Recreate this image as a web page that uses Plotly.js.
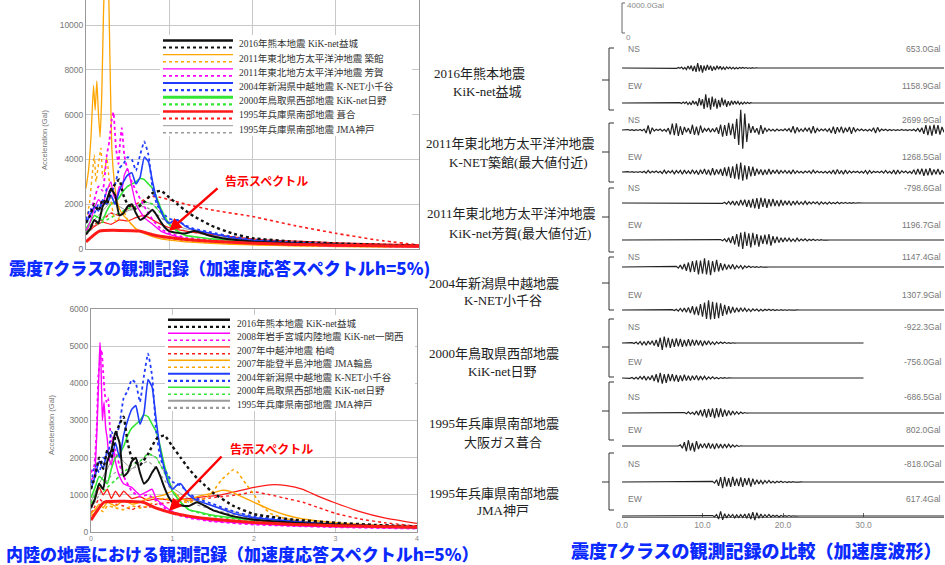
<!DOCTYPE html>
<html><head><meta charset="utf-8">
<script src="https://cdn.plot.ly/plotly-3.0.1.min.js"></script>
<style>html,body{margin:0;padding:0;background:#fff}#c{width:945px;height:565px}</style>
</head><body><div id="c"></div>
<script>
// ---------------- Spectra data (period s, acceleration Gal) ----------------
const kmS_T=[0,0.05,0.1,0.15,0.2,0.25,0.3,0.35,0.4,0.45,0.5,0.55,0.6,0.65,0.7,0.75,0.8,0.85,0.9,0.95,1.0,1.1,1.2,1.3,1.4,1.5,1.75,2.0,2.5,3.0,3.5,4.0];
const kmS_A=[650,900,1300,1150,1900,2200,2700,2400,1500,1600,1900,2000,1600,1300,1400,1600,1750,1500,1200,950,800,720,700,800,700,580,420,330,250,200,160,130];
const kmD_T=[0,0.05,0.1,0.15,0.2,0.25,0.3,0.35,0.4,0.45,0.5,0.6,0.7,0.8,0.9,1.0,1.1,1.2,1.3,1.4,1.5,1.75,2.0,2.5,3.0,3.5,4.0];
const kmD_A=[1160,1500,2000,1700,2200,2000,2600,2900,3100,2400,2000,1800,2100,2500,2600,2300,2000,1700,1450,1250,1050,700,480,330,250,190,150];
const tkS_T=[0,0.03,0.06,0.09,0.11,0.13,0.15,0.17,0.19,0.21,0.23,0.25,0.27,0.29,0.31,0.34,0.37,0.4,0.45,0.5,0.55,0.6,0.7,0.8,0.9,1.0,1.2,1.5,2.0,2.5,3.0,4.0];
const tkS_A=[2700,3500,5000,7300,6200,7500,6000,5000,7000,10500,13000,15000,12000,8000,4500,3000,2200,1800,1500,1300,1100,900,700,550,450,400,320,250,180,140,110,80];
const tkD_T=[0,0.04,0.08,0.1,0.12,0.15,0.18,0.2,0.23,0.25,0.28,0.3,0.33,0.36,0.4,0.45,0.5,0.6,0.7,0.8,1.0,1.2,1.5,2.0,2.5,3.0,4.0];
const tkD_A=[1270,2000,3500,4200,3000,3800,4500,3200,3600,4100,3000,2200,1500,1200,1400,1700,1300,900,700,600,450,350,280,200,150,120,90];
const hgS_T=[0,0.05,0.1,0.15,0.2,0.25,0.3,0.33,0.36,0.4,0.43,0.46,0.5,0.55,0.6,0.7,0.8,0.9,1.0,1.2,1.5,2.0,2.5,3.0,4.0];
const hgS_A=[800,1200,1800,2200,2000,2600,3000,2400,2200,2800,2600,3300,3600,2800,2000,1400,1100,800,650,450,350,250,180,140,100];
const hgD_T=[0,0.05,0.1,0.15,0.2,0.25,0.28,0.31,0.33,0.36,0.39,0.41,0.43,0.46,0.5,0.55,0.6,0.7,0.8,0.9,1.0,1.2,1.5,2.0,2.5,3.0,4.0];
const hgD_A=[1200,1600,2200,2800,2600,4200,4800,5800,6100,4500,3800,4800,5400,4200,3500,3000,2600,1900,1300,900,700,500,380,270,200,150,110];
const ojS_T=[0,0.05,0.1,0.15,0.2,0.25,0.3,0.35,0.4,0.45,0.5,0.55,0.6,0.65,0.7,0.75,0.8,0.85,0.9,0.95,1.0,1.05,1.1,1.2,1.3,1.5,1.75,2.0,2.5,3.0,3.5,4.0];
const ojS_A=[1150,1500,1900,1700,2200,2000,2400,2000,2600,3000,3300,3400,2900,3200,4100,3900,3000,2200,1700,1300,1150,1250,1300,1000,850,700,500,380,280,200,160,120];
const ojD_T=[0,0.05,0.1,0.15,0.2,0.25,0.3,0.35,0.4,0.45,0.5,0.55,0.6,0.65,0.7,0.75,0.8,0.85,0.9,0.95,1.0,1.05,1.1,1.2,1.3,1.5,1.75,2.0,2.5,3.0,3.5,4.0];
const ojD_A=[1310,1800,1600,2000,1900,2700,2500,2900,3600,3800,4100,4000,3500,4200,4800,4200,2700,2000,1700,1500,1350,1300,1250,1050,900,750,550,420,300,220,170,130];
const hnS_T=[0,0.05,0.1,0.15,0.2,0.25,0.3,0.35,0.4,0.45,0.5,0.55,0.6,0.65,0.7,0.75,0.8,0.85,0.9,1.0,1.1,1.2,1.3,1.5,1.75,2.0,2.5,3.0,3.5,4.0];
const hnS_A=[920,1200,1500,1400,1300,1700,2000,2100,2300,2600,2800,2900,3000,3150,3100,2900,2700,2300,1800,1100,800,600,550,450,380,320,250,200,160,130];
const hnD_T=[0,0.05,0.1,0.15,0.2,0.3,0.4,0.5,0.6,0.7,0.8,0.9,1.0,1.1,1.2,1.5,2.0,2.5,3.0,3.5,4.0];
const hnD_A=[760,1000,1300,1100,1200,1400,1600,1800,1900,2100,2000,1600,1100,800,600,420,300,230,180,140,110];
const fkS_T=[0,0.1,0.2,0.3,0.4,0.5,0.6,0.7,0.8,0.9,1.0,1.2,1.5,2.0,2.5,3.0,3.5,4.0];
const fkS_A=[690,1000,1200,1100,1300,1250,1400,1500,1300,1100,950,800,650,450,350,280,230,190];
const fkD_T=[0,0.1,0.2,0.3,0.4,0.5,0.6,0.7,0.8,0.9,1.0,1.2,1.5,2.0,2.5,3.0,3.5,4.0];
const fkD_A=[800,1100,1300,1600,1500,1800,2000,2200,2350,2300,2200,2000,1750,1450,1050,700,400,180];
const kbS_T=[0,0.1,0.2,0.3,0.4,0.5,0.6,0.7,0.8,0.9,1.0,1.2,1.5,2.0,2.5,3.0,4.0];
const kbS_A=[820,1300,1700,2100,1900,1700,1900,2100,2000,1600,1200,900,700,400,280,220,150];
const kbD_T=[0,0.1,0.2,0.3,0.4,0.5,0.6,0.7,0.8,0.9,1.0,1.2,1.5,2.0,2.5,3.0,4.0];
const kbD_A=[620,1000,1400,1600,1500,1700,1800,1900,1700,1400,1100,800,600,350,250,200,130];
const icS_T=[0,0.04,0.07,0.09,0.1,0.11,0.12,0.13,0.14,0.16,0.18,0.2,0.22,0.25,0.28,0.3,0.35,0.4,0.5,0.6,0.7,0.75,0.8,0.9,1.0,1.2,1.5,2.0,2.5,3.0,4.0];
const icS_A=[1400,1500,2600,3800,4500,5100,4700,3800,3000,3500,2800,2500,2000,1800,2200,1900,1500,1300,1200,1000,1100,1150,900,700,550,400,300,220,170,140,100];
const icD_T=[0,0.04,0.07,0.09,0.11,0.13,0.15,0.17,0.19,0.21,0.23,0.25,0.28,0.3,0.35,0.4,0.5,0.6,0.7,0.8,0.9,1.0,1.2,1.5,2.0,2.5,3.0,4.0];
const icD_A=[1600,1800,2800,4200,4600,4900,4300,3700,3500,3600,2900,2400,2600,2200,1800,1500,1100,950,1000,850,650,500,380,280,200,160,130,90];
const kwS_T=[0,0.05,0.1,0.15,0.2,0.25,0.3,0.35,0.4,0.45,0.5,0.6,0.7,0.8,0.9,1.0,1.2,1.4,1.6,1.8,2.0,2.2,2.4,2.6,2.8,3.0,3.3,3.6,4.0];
const kwS_A=[700,900,1200,1000,1150,900,1100,950,1100,1000,900,950,850,900,880,850,900,950,1000,1100,1200,1270,1250,1150,950,780,550,380,230];
const kwD_T=[0,0.05,0.1,0.15,0.2,0.3,0.4,0.5,0.6,0.7,0.8,1.0,1.2,1.4,1.6,1.8,2.0,2.2,2.4,2.6,2.8,3.0,3.3,3.6,4.0];
const kwD_A=[500,700,900,800,850,750,700,600,700,650,750,800,850,900,950,1000,1080,1000,900,800,650,500,350,250,160];
const wjS_T=[0,0.05,0.1,0.15,0.2,0.3,0.4,0.5,0.6,0.7,0.8,0.9,1.0,1.1,1.2,1.3,1.4,1.5,1.6,1.7,1.8,1.9,2.0,2.2,2.4,2.6,3.0,3.5,4.0];
const wjS_A=[500,600,750,650,800,700,850,750,800,900,950,1000,1100,900,850,950,1000,1050,1120,1100,1000,900,800,600,450,350,250,180,130];
const wjD_T=[0,0.05,0.1,0.15,0.2,0.3,0.4,0.5,0.6,0.7,0.8,0.9,1.0,1.2,1.4,1.5,1.6,1.7,1.75,1.8,1.9,2.0,2.1,2.2,2.4,2.6,3.0,3.5,4.0];
const wjD_A=[450,500,600,550,700,650,600,700,650,700,850,900,850,800,900,1100,1400,1600,1680,1600,1300,1000,700,500,350,280,200,150,110];
const ks_T=[0,0.16,0.64,0.8,1.0,1.2,1.5,2.0,2.5,3.0,3.5,4.0];
const ks_A=[320,800,800,640,512,427,341,256,205,171,146,128];

const specYTicksTop=[0,2000,4000,6000,8000,10000];
const specYTicksBot=[0,1000,2000,3000,4000,5000,6000];
const specXTicks=[0,1,2,3,4];

const legendTop=["2016年熊本地震 KiK-net益城","2011年東北地方太平洋沖地震 築館","2011年東北地方太平洋沖地震 芳賀","2004年新潟県中越地震 K-NET小千谷","2000年鳥取県西部地震 KiK-net日野","1995年兵庫県南部地震 葺合","1995年兵庫県南部地震 JMA神戸"];
const legendBot=["2016年熊本地震 KiK-net益城","2008年岩手宮城内陸地震 KiK-net一関西","2007年中越沖地震 柏崎","2007年能登半島沖地震 JMA輪島","2004年新潟県中越地震 K-NET小千谷","2000年鳥取県西部地震 KiK-net日野","1995年兵庫県南部地震 JMA神戸"];

// ---------------- Waveform data (Gal) ----------------
const wKmNS=[0,40,-60,80,-50,120,-140,90,-200,260,-180,320,-400,280,-520,653,-450,380,-600,300,-350,420,-250,300,-380,200,-260,300,-150,220,-180,120,-200,150,-90,130,-110,80,-120,60,-90,70,-50,80,-40,60,-50,30,-40,50,-30,20,-20,0];
const wKmEW=[0,50,-80,120,-60,150,-200,100,-250,300,-150,200,-400,650,-300,500,-800,1158,-600,700,-900,850,-500,600,-750,400,-550,700,-300,450,-500,250,-350,300,-200,280,-150,200,-180,100,-150,120,-80,90,-60,40,0];
const wTkNS=[0,30,-40,60,-50,40,-70,50, -60,80,-90,120,-400,600,-550,300, -150,100,-80,120,-150,90,-200,250, -600,850,-700,900,-800,500,-650,400, -300,250,-500,700,-650,450,-700,600, -350,200,-150,250,-300,200,-250,350, -500,700,-900,650,-800,950,-700,850, -1200,1500,-2000,2699,-2500,2200,-1600,900, -400,500,-350,250,-600,650,-500,300, -200,150,-120,100,-150,120,-100,80, -100,150,-120,200,-300,500,-450,350, -200,150,-200,250,-150,300,-450,500, -400,200,-150,120,-100,150,-200,180, -400,450,-500,380,-300,450,-420,300, -250,400,-500,350,-200,150,-100,120, -100,80,-120,100,-150,300,-400,350, -200,120,-80,100,-90,70,-80,60, -70,50,-60,80,-60,50,-70,60, -80,100,-150,200,-250,300,-500,650, -700,600,-750,700,-500,650,-600,400,-300];
const wTkEW=[0,20,-30,40,-30,50,-40,30, -50,60,-80,100,-150,200,-120,100, -80,120,-100,90,-200,250,-180,150, -120,200,-250,180,-150,220,-300,250, -200,150,-250,300,-200,180,-350,300, -250,400,-350,300,-450,500,-400,350, -300,400,-500,600,-550,700,-800,750, -900,1100,-1000,1268,-1150,900,-1000,800, -600,700,-500,450,-300,350,-400,300, -350,400,-300,250,-200,300,-250,200, -150,200,-180,150,-250,300,-200,150, -120,100,-150,120,-100,150,-200,250, -150,120,-100,80,-120,100,-150,120, -200,250,-300,350,-250,200,-300,250, -200,150,-120,100,-80,100,-120,100, -150,200,-250,200,-150,100,-80,60, -100,120,-150,200,-150,100,-200,250, -300,250,-200,150,-100,120,-150,100, -200,300,-350,400,-300,450,-500,400, -450,500,-400,350,-300,400,-350,250,-200];
const wHgNS=[0,40,-60,100,-150,200,-180,250, -300,250,-350,400,-300,450,-500,400, -600,550,-700,650,-798,700,-500,600, -650,500,-450,550,-400,350,-450,400, -350,300,-250,300,-350,250,-200,250, -200,150,-200,250,-180,150,-120,150, -100,150,-200,150,-120,100,-150,120, -100,80,-100,120,-90,70,-60,80, -60,50,-40,50,-30,20,-20,10,0];
const wHgEW=[0,60,-100,150,-250,300,-400,500, -600,800,-900,1000,-1196,1100,-800,900, -1000,950,-700,800,-900,600,-500,700, -600,800,-750,500,-400,450,-350,300, -250,300,-200,250,-180,150,-200,250, -150,120,-100,150,-120,100,-80,100, -80,60,-50,40,-30,20,-10,0];
const wOjNS=[0,80,-150,250,-300,400,-500,600, -700,800,-650,900,-1000,850,-900,1147, -1000,900,-1100,800,-700,950,-600,500, -450,400,-350,300,-250,350,-300,200, -150,200,-250,150,-100,120,-80,60, -50,40,-60,50,-30,20,-10,0];
const wOjEW=[0,50,-80,100,-150,200,-180,250, -300,350,-400,500,-600,450,-700,800, -900,1000,-1200,1307,-1250,1100,-1200,1000, -1100,900,-800,700,-600,500,-450,400, -350,300,-250,300,-200,250,-200,150, -200,150,-100,120,-150,100,-120,100, -80,100,-60,80,-70,50,-60,40, -50,30,-40,30,-20,30,-20,10, 0];
const wHnNS=[0,20,-30,50,-80,120,-150,200, -250,200,-300,250,-200,300,-350,400, -500,700,-922,850,-600,700,-650,550, -500,600,-450,550,-500,400,-450,500, -400,450,-350,400,-300,350,-400,300, -250,300,-200,150,-200,150,-100,120, -80,100,-60,50,-40,30,-20,0];
const wHnEW=[0,30,-50,80,-120,100,-150,200, -150,250,-300,200,-250,350,-400,500, -600,700,-756,500,-650,550,-400,500, -450,400,-500,350,-400,450,-350,300, -350,300,-250,350,-300,250,-200,250, -200,150,-120,150,-100,80,-100,60, -50,40,-30,20,-10,0];
const wFkNS=[0,60,-100,150,-120,100,-200,250, -300,400,-450,500,-600,550,-500,600, -686,650,-550,600,-500,450,-400,350, -300,250,-200,180,-150,120,-80,60, -30,0];
const wFkEW=[0,150,-300,500,-700,802,-600,400, -750,650,-400,300,-250,350,-300,400, -350,300,-400,350,-300,250,-300,250, -200,250,-180,150,-120,100,-60,30, 0];
const wKbNS=[0,80,-150,300,-500,650,-818,700, -600,500,-650,700,-500,450,-550,600, -650,500,-400,550,-600,450,-350,300, -250,200,-250,200,-150,200,-120,100, -120,100,-80,100,-70,60,-80,50, -40,50,-30,20,-20,10,0];
const wKbEW=[0,60,-100,200,-400,617,-500,300, -250,200,-150,200,-250,150,-200,180, -200,250,-300,350,-400,500,-550,450, -300,250,-200,180,-150,200,-120,100, -80,100,-120,80,-60,50,-40,60, -40,30,-20,10,0];

const waves=[wKmNS,wKmEW,wTkNS,wTkEW,wHgNS,wHgEW,wOjNS,wOjEW,wHnNS,wHnEW,wFkNS,wFkEW,wKbNS,wKbEW];
const waveStart=[6.4,7.0,0,0,12,12,6.5,6.0,0.5,0.5,7.5,7.0,11,11];
const waveStep=[0.2,0.2,0.25,0.25,0.25,0.25,0.25,0.25,0.25,0.25,0.25,0.25,0.25,0.25];
const waveEnd=[40,40,40,40,40,40,40,40,30,30,40,40,40,40];
const waveComp=["NS","EW","NS","EW","NS","EW","NS","EW","NS","EW","NS","EW","NS","EW"];
const wavePeak=["653.0Gal","1158.9Gal","2699.9Gal","1268.5Gal","-798.6Gal","1196.7Gal","1147.4Gal","1307.9Gal","-922.3Gal","-756.0Gal","-686.5Gal","802.0Gal","-818.0Gal","617.4Gal"];
const waveTicks=[0,10,20,30,40];
const waveTickText=["0.0","10.0","20.0","30.0","40.0"];

const groupLine1=["2016年熊本地震","2011年東北地方太平洋沖地震","2011年東北地方太平洋沖地震","2004年新潟県中越地震","2000年鳥取県西部地震","1995年兵庫県南部地震","1995年兵庫県南部地震"];
const groupLine2=["KiK-net益城","K-NET築館(最大値付近)","KiK-net芳賀(最大値付近)","K-NET小千谷","KiK-net日野","大阪ガス葺合","JMA神戸"];

// ---------------- layout helpers ----------------
const W=945,H=565;
const PX=x=>x/W, PY=y=>1-y/H;
const SERIF="'Liberation Serif','Noto Sans CJK JP',serif";
const SANS="'Liberation Sans','Noto Sans CJK JP',sans-serif";
const GOTH="'Noto Sans CJK JP',sans-serif";
const C={k:'#111111',o:'#ffa500',m:'#ff00ff',b:'#1f3cff',g:'#33e633',r:'#ff1a1a',gy:'#9a9a9a'};

const traces=[];
function spec(T,A,col,dash,w,xa,ya){
  traces.push({type:'scatter',mode:'lines',x:T,y:A,xaxis:xa,yaxis:ya,
    line:{color:col,dash:dash,width:w,shape:'spline',smoothing:0.4},hoverinfo:'skip'});
}
// top chart
spec(kbS_T,kbS_A,C.gy,'solid',1,'x','y'); spec(kbD_T,kbD_A,C.gy,'dot',1.2,'x','y');
spec(fkS_T,fkS_A,C.r,'solid',1.2,'x','y'); spec(fkD_T,fkD_A,C.r,'dot',1.6,'x','y');
spec(hnS_T,hnS_A,C.g,'solid',1.6,'x','y'); spec(hnD_T,hnD_A,C.g,'dot',1.6,'x','y');
spec(tkS_T,tkS_A,C.o,'solid',1.3,'x','y'); spec(tkD_T,tkD_A,C.o,'dot',1.4,'x','y');
spec(hgS_T,hgS_A,C.m,'solid',1.3,'x','y'); spec(hgD_T,hgD_A,C.m,'dot',1.8,'x','y');
spec(ojS_T,ojS_A,C.b,'solid',1.6,'x','y'); spec(ojD_T,ojD_A,C.b,'dot',1.8,'x','y');
spec(kmS_T,kmS_A,C.k,'solid',2,'x','y'); spec(kmD_T,kmD_A,C.k,'dot',2.4,'x','y');
spec(ks_T,ks_A,C.r,'solid',3,'x','y');
// bottom chart
spec(kbS_T,kbS_A,C.gy,'solid',1,'x2','y2'); spec(kbD_T,kbD_A,C.gy,'dot',1.2,'x2','y2');
spec(kwS_T,kwS_A,C.r,'solid',1.3,'x2','y2'); spec(kwD_T,kwD_A,C.r,'dot',1.4,'x2','y2');
spec(wjS_T,wjS_A,C.o,'solid',1.4,'x2','y2'); spec(wjD_T,wjD_A,C.o,'dot',1.6,'x2','y2');
spec(icS_T,icS_A,C.m,'solid',1.4,'x2','y2'); spec(icD_T,icD_A,C.m,'dot',1.8,'x2','y2');
spec(hnS_T,hnS_A,C.g,'solid',1.6,'x2','y2'); spec(hnD_T,hnD_A,C.g,'dot',1.6,'x2','y2');
spec(ojS_T,ojS_A,C.b,'solid',1.6,'x2','y2'); spec(ojD_T,ojD_A,C.b,'dot',1.8,'x2','y2');
spec(kmS_T,kmS_A,C.k,'solid',2,'x2','y2'); spec(kmD_T,kmD_A,C.k,'dot',2.4,'x2','y2');
spec(ks_T,ks_A,C.r,'solid',3,'x2','y2');

// waveforms
const baseY=[68,103,130,172,203,240,267,310,343,378,413,446,482,516];
const HALF=22, GAL_PER_PX=4000/30;
const layout={width:W,height:H,margin:{l:0,r:0,t:0,b:0},paper_bgcolor:'#fff',plot_bgcolor:'rgba(0,0,0,0)',
  showlegend:false,hovermode:false,shapes:[],annotations:[]};
waves.forEach((v,i)=>{
  const xs=[0], ys=[0];
  v.forEach((a,j)=>{xs.push(waveStart[i]+j*waveStep[i]); ys.push(a);});
  xs.push(waveEnd[i]); ys.push(0);
  const ya='y'+(i+3);
  traces.push({type:'scatter',mode:'lines',x:xs,y:ys,xaxis:'x3',yaxis:ya,line:{color:'#222',width:1.2},hoverinfo:'skip'});
  layout['yaxis'+(i+3)]={anchor:'x3',domain:[PY(baseY[i]+HALF),PY(baseY[i]-HALF)],range:[-HALF*GAL_PER_PX,HALF*GAL_PER_PX],visible:false,fixedrange:true};
});

const tickFont={family:SANS,size:8.5,color:'#777'};
layout.xaxis={domain:[PX(86),PX(419)],range:[0,4],anchor:'y',tickvals:specXTicks,ticks:'',showticklabels:false,
  showgrid:true,gridcolor:'#c8c8c8',gridwidth:1,zeroline:false,showline:true,linecolor:'#999',linewidth:1};
layout.yaxis={domain:[PY(249),1],range:[0,11116],anchor:'x',tickvals:specYTicksTop,ticktext:specYTicksTop.map(String),ticks:'',tickfont:tickFont,
  showgrid:true,gridcolor:'#c8c8c8',gridwidth:1,zeroline:false,showline:true,linecolor:'#999',linewidth:1,mirror:true};
layout.xaxis2={domain:[PX(91),PX(417)],range:[0,4],anchor:'y2',tickvals:specXTicks,ticks:'',tickfont:{family:SANS,size:7,color:'#888'},
  showgrid:true,gridcolor:'#c8c8c8',gridwidth:1,zeroline:false,showline:true,linecolor:'#999',linewidth:1,mirror:true};
layout.yaxis2={domain:[PY(532),PY(309)],range:[0,6000],anchor:'x2',tickvals:specYTicksBot,ticktext:specYTicksBot.map(String),ticks:'',tickfont:tickFont,
  showgrid:true,gridcolor:'#c8c8c8',gridwidth:1,zeroline:false,showline:true,linecolor:'#999',linewidth:1,mirror:true};
layout.xaxis3={domain:[PX(622),PX(944)],range:[0,40],anchor:'free',position:PY(517),tickvals:waveTicks,ticktext:waveTickText,
  ticks:'inside',ticklen:4,tickcolor:'#666',tickfont:{family:SANS,size:8.5,color:'#888'},showgrid:false,zeroline:false,
  showline:true,linecolor:'#777',linewidth:1};

const A=layout.annotations, S=layout.shapes;
function txt(x,y,t,font,xa,extra){A.push(Object.assign({xref:'paper',yref:'paper',x:PX(x),y:PY(y),text:t,showarrow:false,
  xanchor:xa||'center',yanchor:'middle',font:font},extra||{}));}

// axis titles
txt(45,140,'Acceleration (Gal)',{family:SANS,size:7.5,color:'#777'},'center',{textangle:-90});
txt(52,425,'Acceleration (Gal)',{family:SANS,size:7.5,color:'#777'},'center',{textangle:-90});

// legends
function legend(x0,x1,y0,y1,sx0,sx1,tx,r0,dr,labels,cols,ws){
  S.push({type:'rect',xref:'paper',yref:'paper',x0:PX(x0),x1:PX(x1),y0:PY(y1),y1:PY(y0),fillcolor:'#fff',line:{width:0},layer:'above'});
  labels.forEach((lb,i)=>{
    const y=r0+dr*i;
    S.push({type:'line',xref:'paper',yref:'paper',x0:PX(sx0),x1:PX(sx1),y0:PY(y-3.5),y1:PY(y-3.5),line:{color:cols[i],width:ws[i]},layer:'above'});
    S.push({type:'line',xref:'paper',yref:'paper',x0:PX(sx0),x1:PX(sx1),y0:PY(y+3.5),y1:PY(y+3.5),line:{color:cols[i],width:ws[i]<2?1.6:2.2,dash:'dot'},layer:'above'});
    txt(tx,y,lb,{family:SERIF,size:9.5,color:'#333'},'left');
  });
}
legend(160,412,35,136,163,233,237,44,14.2,legendTop,[C.k,C.o,C.m,C.b,C.g,C.r,C.gy],[2.5,1.3,1.3,2,3,2.5,1]);
legend(165,415,315,411,168,230,235,323.3,13.5,legendBot,[C.k,C.m,C.r,C.o,C.b,C.g,C.gy],[2.5,1.5,1.3,1.5,2,1.5,2]);

// 告示スペクトル labels and arrows
const redFont={family:GOTH,size:12,color:'#ff0000',weight:700};
txt(266,180,'告示スペクトル',redFont);
txt(271,449,'告示スペクトル',redFont);
A.push({xref:'paper',yref:'paper',x:PX(169),y:PY(231),ax:50,ay:-44,axref:'pixel',ayref:'pixel',text:'',showarrow:true,arrowhead:2,arrowsize:1,arrowwidth:2.5,arrowcolor:'#ff0000'});
A.push({xref:'paper',yref:'paper',x:PX(169),y:PY(511),ax:54,ay:-56,axref:'pixel',ayref:'pixel',text:'',showarrow:true,arrowhead:2,arrowsize:1,arrowwidth:2.5,arrowcolor:'#ff0000'});

// titles
const titleFont={family:GOTH,size:17,color:'#0a2aff',weight:900};
txt(219,268,'震度7クラスの観測記録（加速度応答スペクトルh=5%)',titleFont);
txt(242,553,'内陸の地震における観測記録（加速度応答スペクトルh=5%）',titleFont);
txt(756,550,'震度7クラスの観測記録の比較（加速度波形）',Object.assign({},titleFont,{size:18}));

// middle labels
const g1y=[73,143,213,283,353,423,493], g2y=[92,162,233,300,371,442,510];
const g1x=[479,510,511,494,494,494,494], g2x=[487,518,520,503,502,503,503];
groupLine1.forEach((t,i)=>{txt(g1x[i],g1y[i],t,{family:SERIF,size:13,color:'#222'});txt(g2x[i],g2y[i],groupLine2[i],{family:SERIF,size:13,color:'#222'});});

// brackets
const bTop=[48,123,188,257,319,382,453], bBot=[110,182,252,310,377,440,510], bMid=[80,152,217,283,347,411,482];
bTop.forEach((t,i)=>{
  S.push({type:'path',xref:'paper',yref:'paper',path:`M ${PX(614)},${PY(t)} L ${PX(609)},${PY(t)} L ${PX(609)},${PY(bBot[i])} L ${PX(614)},${PY(bBot[i])}`,line:{color:'#333',width:1}});
  S.push({type:'line',xref:'paper',yref:'paper',x0:PX(602),x1:PX(609),y0:PY(bMid[i]),y1:PY(bMid[i]),line:{color:'#333',width:1}});
});

// waveform labels
const compY=[49,86,120,157,188,225,257,295,327,362,397,430,464,499];
compY.forEach((y,i)=>{
  txt(626,y,waveComp[i],{family:SANS,size:8.5,color:'#777'},'left');
  txt(943,y,wavePeak[i],{family:SANS,size:8.5,color:'#777'},'right');
});
// scale bar
S.push({type:'path',xref:'paper',yref:'paper',path:`M ${PX(625)},${PY(3)} L ${PX(622)},${PY(3)} L ${PX(622)},${PY(33)} L ${PX(625)},${PY(33)}`,line:{color:'#666',width:1}});
txt(625,6,'4000.0Gal',{family:SANS,size:8,color:'#888'},'left');
txt(624,37,'0',{family:SANS,size:8,color:'#888'},'left');

Plotly.newPlot('c',traces,layout,{staticPlot:true,displayModeBar:false});
</script></body></html>
